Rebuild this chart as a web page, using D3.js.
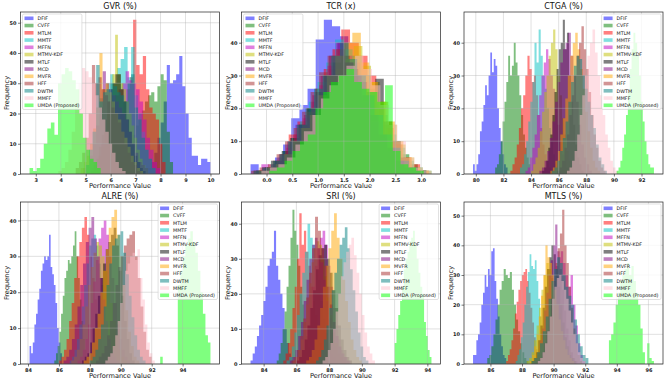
<!DOCTYPE html>
<html><head><meta charset="utf-8">
<script src="https://cdn.jsdelivr.net/npm/d3@7"></script>
<style>body{margin:0;background:#fff}svg{display:block;font-family:"DejaVu Sans",sans-serif}</style>
</head><body><svg id="c" width="668" height="383"></svg>
<script>
const methods = ["DFIF","CVFF","MTLM","MMTF","MFFN","MTMV-KDF","MTLF","MCD","MVFR","HFF","DWTM","MMFF","UMDA (Proposed)"];
const colors = ["#0000ff","#008000","#ff0000","#00bfbf","#bf00bf","#bfbf00","#000000","#800080","#ffa500","#a52a2a","#008080","#ffc0cb","#00ff00"];
const panelTitles = ["GVR (%)","TCR (x)","CTGA (%)","ALRE (%)","SRI (%)","MTLS (%)"];

// ---- GVR (%) ----
const gvrLo = [7.5,6.0,5.6,5.0,5.2,5.3,5.2,4.9,4.8,4.6,5.0,3.9,2.75];
const gvrHi = [10.0,8.5,8.2,7.8,8.0,7.5,7.4,7.5,7.3,7.2,7.8,6.6,5.6];
const gvrCounts = [
 [2,4,7,12,17,24,36,30,31,33,39,29,20,12,6,6,3,5,5,4],
 [1,2,2,4,6,8,10,13,16,20,21,24,26,27,24,29,33,31,14,4],
 [2,3,5,8,12,15,20,24,28,32,51,36,33,39,28,22,20,18,10,4],
 [3,8,14,22,25,28,30,33,30,35,38,42,32,42,26,20,14,8,5,2],
 [2,4,6,10,14,18,22,26,28,30,34,31,30,28,24,18,12,8,4,2],
 [2,3,6,9,14,20,26,33,46,33,30,28,24,20,16,12,8,5,3,2],
 [1,3,5,9,13,18,24,28,30,33,33,28,24,18,14,10,6,4,2,1],
 [2,3,6,10,16,22,34,30,28,26,24,22,20,18,14,10,7,4,3,2],
 [2,4,6,10,15,22,40,28,30,27,24,20,18,14,12,9,6,4,2,1],
 [2,4,7,12,20,36,30,32,28,26,24,22,20,17,14,10,7,4,3,1],
 [3,8,14,36,24,27,28,30,29,27,26,24,30,33,22,18,12,8,5,2],
 [1,2,4,8,14,22,30,35,34,32,30,26,22,18,14,10,7,4,2,1],
 [2,1,2,5,10,15,17,13,30,33,35,34,31,28,20,12,8,5,4,2]
];
const gvrTicks = [3,4,5,6,7,8,9,10];

// ---- TCR (x) ----
const tcrLo = [-0.31,-0.2,-0.25,-0.2,-0.1,-0.15,-0.2,-0.25,-0.15,-0.3,-0.25,-0.1,0.05];
const tcrHi = [2.85,3.1,3.15,3.2,3.1,3.2,3.1,3.0,3.15,3.0,3.1,3.2,3.05];
const tcrCounts = [
 [3,1,2,5,9,17,21,26,41,47,45,42,36,27,20,14,8,4,2,1],
 [1,2,3,6,10,15,20,26,30,32,34,33,30,26,20,15,10,6,3,1],
 [1,2,4,6,12,16,20,26,32,38,44,40,36,30,20,14,9,5,3,1],
 [1,2,3,7,11,16,22,28,34,41,38,36,30,25,18,12,8,4,2,1],
 [3,2,4,8,12,17,22,27,33,40,36,34,28,22,16,11,7,4,2,1],
 [1,2,3,6,10,14,19,24,28,32,35,39,33,28,22,15,9,5,2,1],
 [1,2,4,7,11,15,20,25,30,34,36,32,28,25,29,16,10,5,2,1],
 [1,2,3,6,10,15,18,24,30,36,40,34,28,22,16,11,7,4,2,1],
 [1,2,3,6,10,14,18,24,30,36,40,43,34,28,22,16,10,5,2,1],
 [1,2,3,6,10,14,19,25,31,36,38,34,30,24,18,12,8,4,2,1],
 [1,2,4,6,10,15,20,26,30,36,40,35,30,24,18,12,8,4,2,1],
 [1,2,3,5,9,13,18,23,27,30,33,36,32,27,21,15,10,5,2,1],
 [1,2,4,7,10,12,20,25,28,30,32,28,26,25,22,27,7,3,2,1]
];
const tcrTicks = [0,0.5,1,1.5,2,2.5,3];

// ---- CTGA (%) ----
const ctgaLo = [79.8,81.4,82.5,83.2,83.6,84.0,84.8,84.6,85.4,85.9,85.5,86.6,90.2];
const ctgaHi = [82.3,84.1,85.6,86.2,86.9,87.2,87.8,88.4,89.0,89.4,89.5,90.3,92.9];
const ctgaCounts = [
 [3,1,3,6,13,16,21,27,24,30,37,31,35,33,20,14,10,6,3,2],
 [2,3,6,10,16,22,28,36,30,33,40,34,30,24,18,12,8,5,3,1],
 [1,3,5,9,14,20,24,30,36,32,28,30,24,18,14,9,6,4,2,1],
 [2,3,6,10,16,22,28,40,34,44,36,30,26,20,14,10,6,4,2,1],
 [1,2,5,8,12,18,24,30,34,38,35,30,26,20,15,10,6,4,2,1],
 [1,3,5,8,13,19,25,30,36,40,44,38,30,24,17,12,7,4,2,1],
 [1,2,4,8,12,18,25,32,38,40,47,38,43,30,22,15,9,5,3,1],
 [1,2,4,7,11,16,22,28,34,38,40,43,36,30,22,15,9,5,3,1],
 [1,2,4,7,12,17,23,30,36,40,43,38,32,26,19,13,8,4,2,1],
 [1,2,4,8,12,18,24,30,36,40,45,38,32,25,18,12,8,4,2,1],
 [1,2,4,7,11,16,22,28,33,36,35,30,26,22,18,14,9,5,3,1],
 [1,2,4,7,12,18,24,30,36,40,44,37,30,24,18,12,8,4,2,1],
 [1,2,4,8,12,18,25,32,38,43,40,36,30,22,16,10,6,3,2,2]
];
const ctgaTicks = [80,82,84,86,88,90,92];

// ---- ALRE (%) ----
const alreLo = [84.1,85.7,86.0,86.7,87.2,86.8,87.5,86.3,87.6,88.4,88.0,89.0,92.55];
const alreHi = [86.2,87.9,89.3,89.8,90.6,90.4,90.9,89.9,91.2,92.0,91.6,92.2,95.8];
const alreCounts = [
 [5,3,6,11,14,18,21,26,28,30,29,30,36,27,25,22,17,10,6,3],
 [1,3,5,9,14,19,24,26,29,28,30,33,37,30,24,18,12,7,4,2],
 [1,2,4,7,12,17,24,30,34,38,41,36,30,24,18,12,8,4,2,1],
 [1,2,4,7,11,16,22,28,33,35,36,33,28,22,16,11,7,4,2,1],
 [1,2,4,7,11,17,23,29,35,38,40,36,30,24,17,11,7,4,2,1],
 [1,2,4,7,11,16,22,27,31,34,33,30,26,22,17,12,8,4,2,1],
 [1,2,3,6,10,14,19,24,28,32,34,36,38,33,26,19,12,7,3,1],
 [1,2,4,7,11,16,22,28,34,38,41,35,30,24,18,12,7,4,2,1],
 [1,2,3,6,10,14,20,26,32,38,41,43,36,30,22,15,9,5,2,1],
 [1,2,3,5,8,12,17,22,27,30,33,35,36,37,30,24,16,9,4,2],
 [1,2,4,7,11,16,22,28,33,35,36,37,31,25,19,13,8,4,2,1],
 [1,2,3,5,8,12,17,22,26,28,30,31,29,32,24,18,11,6,3,1],
 [2,0,0,0,0,0,0,22,26,30,33,35,37,34,31,26,20,14,8,6]
];
const alreTicks = [84,86,88,90,92,94];

// ---- SRI (%) ----
const sriLo = [83.2,84.8,85.2,85.4,86.0,85.8,86.0,85.6,86.6,85.7,87.2,87.6,92.0];
const sriHi = [85.8,87.2,88.0,88.6,89.2,89.0,89.4,89.0,90.0,89.3,90.4,90.8,94.25];
const sriCounts = [
 [1,3,5,8,11,14,18,22,28,30,32,38,28,24,20,16,10,6,3,2],
 [1,3,6,10,15,22,28,36,44,38,34,28,22,17,12,8,5,3,2,1],
 [1,3,6,10,16,22,30,43,34,38,32,28,22,18,14,10,6,4,2,1],
 [1,2,5,9,14,20,26,32,40,36,34,30,24,18,13,9,5,3,2,1],
 [1,2,4,7,11,16,22,28,33,36,38,34,28,22,16,11,7,4,2,1],
 [1,2,4,7,12,17,23,29,33,35,34,30,25,19,14,9,6,3,2,1],
 [1,2,4,7,11,16,21,27,31,33,34,30,26,21,16,11,7,4,2,1],
 [1,2,4,8,12,18,24,30,34,36,33,29,24,18,13,9,5,3,2,1],
 [1,2,4,7,11,16,22,28,33,38,43,36,30,24,18,12,7,4,2,1],
 [1,2,4,8,13,19,26,33,42,38,33,28,22,17,12,8,5,3,2,1],
 [1,2,4,7,11,16,21,26,30,34,36,39,33,27,21,15,9,5,2,1],
 [1,2,4,6,10,15,20,25,29,32,34,36,31,26,20,14,9,5,3,1],
 [6,10,14,18,22,27,30,32,35,36,38,34,30,26,22,20,12,8,4,2]
];
const sriTicks = [84,86,88,90,92,94];

// ---- MTLS (%) ----
const mtlsLo = [84.9,85.8,87.0,87.6,88.9,88.3,88.6,88.7,88.5,89.0,88.6,89.0,93.5];
const mtlsHi = [87.0,88.4,89.2,89.8,92.0,91.4,91.4,91.5,91.3,91.8,92.2,92.0,96.35];
const mtlsCounts = [
 [3,3,8,10,14,20,24,30,26,32,30,38,39,28,22,16,10,6,3,2],
 [2,3,6,10,15,20,25,28,32,30,29,31,25,20,15,11,7,4,2,1],
 [1,3,5,8,12,17,21,25,28,30,31,32,28,24,19,14,9,5,3,1],
 [1,3,5,9,14,20,26,31,37,33,32,35,28,22,16,11,7,4,2,1],
 [1,2,4,7,11,16,22,28,33,36,38,34,30,26,30,20,13,7,3,1],
 [1,2,4,8,13,19,25,30,34,32,29,25,21,17,13,9,6,4,2,1],
 [1,2,4,8,13,19,26,32,36,40,37,32,26,20,14,9,6,3,2,1],
 [1,2,4,8,12,18,24,30,35,40,47,38,32,25,18,12,8,4,2,1],
 [1,3,6,10,16,23,30,40,36,34,30,25,20,15,11,8,5,3,2,1],
 [1,2,4,7,11,16,22,28,34,39,44,52,40,34,26,19,12,7,3,1],
 [1,2,4,7,11,16,22,28,32,36,34,30,26,23,20,15,10,6,3,2],
 [1,2,4,7,11,16,22,26,29,30,28,25,22,18,14,10,7,4,2,1],
 [8,10,14,20,24,28,30,32,34,30,33,28,24,20,12,4,0,7,2,1]
];
const mtlsTicks = [86,88,90,92,94,96];

const panels = [
 {lo:gvrLo, hi:gvrHi, counts:gvrCounts, ticks:gvrTicks, fmt:d3.format("d"), legend:"left"},
 {lo:tcrLo, hi:tcrHi, counts:tcrCounts, ticks:tcrTicks, fmt:d3.format(".1f"), legend:"left"},
 {lo:ctgaLo, hi:ctgaHi, counts:ctgaCounts, ticks:ctgaTicks, fmt:d3.format("d"), legend:"right"},
 {lo:alreLo, hi:alreHi, counts:alreCounts, ticks:alreTicks, fmt:d3.format("d"), legend:"right"},
 {lo:sriLo, hi:sriHi, counts:sriCounts, ticks:sriTicks, fmt:d3.format("d"), legend:"right"},
 {lo:mtlsLo, hi:mtlsHi, counts:mtlsCounts, ticks:mtlsTicks, fmt:d3.format("d"), legend:"right"}
];

const svg = d3.select("#c");
svg.append("rect").attr("width",668).attr("height",383).attr("fill","#fff");
const colX = [20.5, 241.5, 464], rowY = [12, 202], W = 199, H = 162;
const FONT = "DejaVu Sans, sans-serif";

panels.forEach((p, i) => {
  const x0 = colX[i % 3], y0 = rowY[Math.floor(i / 3)];
  const xmin = d3.min(p.lo), xmax = d3.max(p.hi), pad = (xmax - xmin) * 0.05;
  const x = d3.scaleLinear().domain([xmin - pad, xmax + pad]).range([x0, x0 + W]);
  const ymax = d3.max(p.counts.flat()) * 1.05;
  const y = d3.scaleLinear().domain([0, ymax]).range([y0 + H, y0]);
  const g = svg.append("g");

  // histograms
  const area = d3.area().curve(d3.curveStepAfter)
    .x(d => x(d.e)).y0(y(0)).y1(d => y(d.c));
  p.counts.forEach((cs, s) => {
    const w = (p.hi[s] - p.lo[s]) / cs.length;
    const pts = cs.map((c, k) => ({e: p.lo[s] + k * w, c}));
    pts.push({e: p.hi[s], c: cs[cs.length - 1]});
    g.append("path").attr("d", area(pts)).attr("fill", colors[s]).attr("fill-opacity", 0.5);
  });

  // grid
  const yTicks = d3.range(0, ymax, 10);
  g.append("g").selectAll("line").data(p.ticks).join("line")
    .attr("x1", d => x(d)).attr("x2", d => x(d)).attr("y1", y0).attr("y2", y0 + H)
    .attr("stroke", "#b0b0b0").attr("stroke-opacity", 0.55).attr("stroke-width", 0.7);
  g.append("g").selectAll("line").data(yTicks).join("line")
    .attr("y1", d => y(d)).attr("y2", d => y(d)).attr("x1", x0).attr("x2", x0 + W)
    .attr("stroke", "#b0b0b0").attr("stroke-opacity", 0.55).attr("stroke-width", 0.7);

  // axes
  const ax = g.append("g").attr("transform", `translate(0,${y0 + H})`)
    .call(d3.axisBottom(x).tickValues(p.ticks).tickFormat(p.fmt).tickSize(2.5).tickPadding(1.5));
  const ay = g.append("g").attr("transform", `translate(${x0},0)`)
    .call(d3.axisLeft(y).tickValues(yTicks).tickFormat(d3.format("d")).tickSize(2.5).tickPadding(1.5));
  [ax, ay].forEach(a => {
    a.select(".domain").remove();
    a.selectAll("line").attr("stroke", "#222").attr("stroke-width", 0.6);
    a.selectAll("text").attr("font-size", 5).attr("font-weight", "bold").attr("font-family", FONT).attr("fill", "#222");
  });

  // frame
  g.append("rect").attr("x", x0).attr("y", y0).attr("width", W).attr("height", H)
    .attr("fill", "none").attr("stroke", "#222").attr("stroke-width", 0.7);

  // labels
  g.append("text").attr("x", x0 + W / 2).attr("y", y0 - 3).attr("text-anchor", "middle")
    .attr("font-size", 8).attr("font-family", FONT).attr("fill", "#111").text(panelTitles[i]);
  g.append("text").attr("x", x0 + W / 2).attr("y", y0 + H + 14).attr("text-anchor", "middle")
    .attr("font-size", 6.6).attr("font-family", FONT).attr("fill", "#111").text("Performance Value");
  g.append("text").attr("transform", `translate(${x0 - 11.5},${y0 + H / 2}) rotate(-90)`)
    .attr("text-anchor", "middle").attr("font-size", 6.6).attr("font-family", FONT).attr("fill", "#111").text("Frequency");

  // legend
  const lg = g.append("g");
  const box = lg.append("rect");
  const rowH = 7.25, fs = 4.8;
  let maxW = 0;
  const items = methods.map((m, s) => {
    const t = lg.append("text").attr("font-size", fs).attr("font-family", FONT).attr("fill", "#111").text(m);
    maxW = Math.max(maxW, t.node().getComputedTextLength());
    return t;
  });
  const bw = 2 + 9 + 4 + maxW + 2.5;
  const bx = p.legend === "left" ? x0 + 2 : x0 + W - 2 - bw;
  const by = y0 + 2;
  box.attr("x", bx).attr("y", by).attr("width", bw).attr("height", 12 * rowH + 8.5).attr("rx", 1.5)
    .attr("fill", "#fff").attr("fill-opacity", 0.8).attr("stroke", "#cccccc").attr("stroke-width", 0.6);
  items.forEach((t, s) => {
    const cy = by + 4.3 + s * rowH;
    lg.append("rect").attr("x", bx + 2).attr("y", cy - 1.8).attr("width", 9).attr("height", 3.6)
      .attr("fill", colors[s]).attr("fill-opacity", 0.5);
    t.attr("x", bx + 15).attr("y", cy + 1.7);
  });
});
</script></body></html>
